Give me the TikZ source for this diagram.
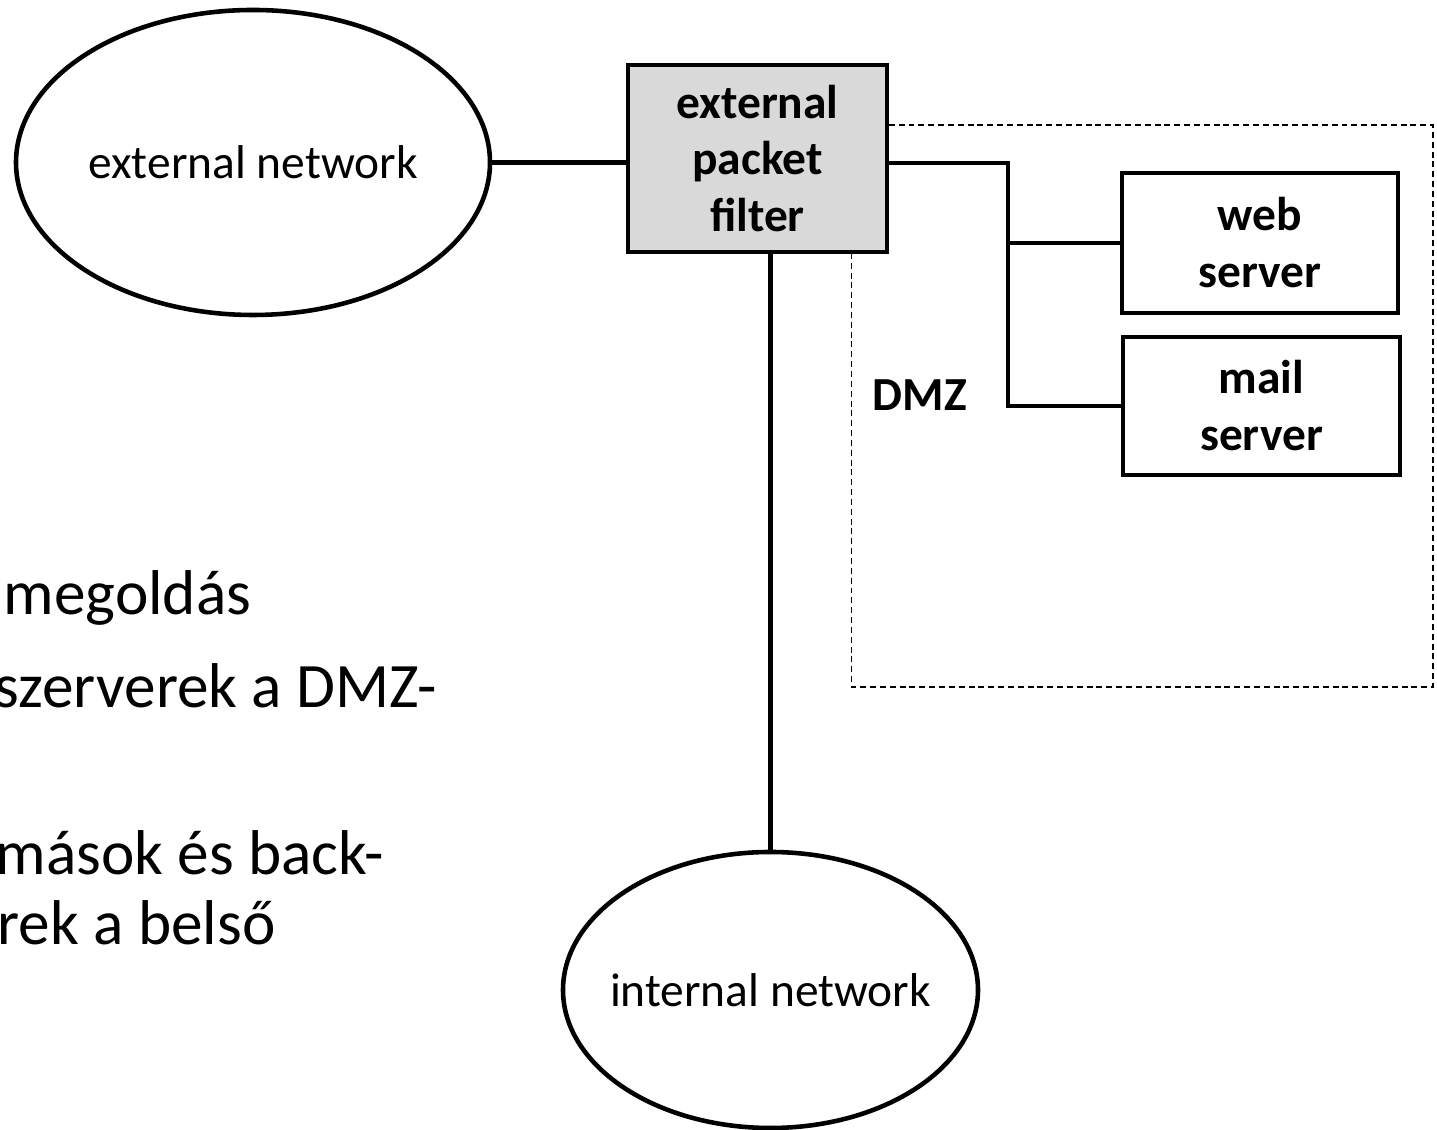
\documentclass[tikz,border=0pt]{standalone}
\usepackage{fontspec}
\setmainfont{Carlito}
\usetikzlibrary{shapes.geometric}
\definecolor{filtergray}{RGB}{217,217,217}

\begin{document}
\begin{tikzpicture}[net/.style={ellipse, draw, line width=1.3pt, inner sep=0pt},
		netlabel/.style={inner sep=0pt, font=\fontsize{13.5}{16.2}\selectfont},
		box/.style={rectangle, draw, line width=1.4pt, inner sep=0pt, align=center, font=\fontsize{13.5}{16.2}\selectfont\bfseries},
		bullet/.style={anchor=base west, inner sep=0pt, font=\fontsize{18}{20}\selectfont}]
		\useasboundingbox (0,0) rectangle (14.37,-11.30);

		\draw [line width=0.45pt, dash pattern=on 1.7pt off 1.1pt] (8.515,-1.25) rectangle (14.33,-6.87);

		\node [net, minimum width=4.74cm, minimum height=3.05cm, label={[netlabel]center:external network}] (extnet) at (2.53,-1.625) {};
		\node [net, minimum width=4.15cm, minimum height=2.76cm, label={[netlabel]center:internal network}] (intnet) at (7.705,-9.90) {};

		\node [box, fill=filtergray, minimum width=2.59cm, minimum height=1.87cm] (filter) at (7.575,-1.585) {external\\packet\\filter};
		\node [box, minimum width=2.76cm, minimum height=1.40cm] (web) at (12.60,-2.43) {web\\server};
		\node [box, minimum width=2.77cm, minimum height=1.38cm] (mail) at (12.615,-4.06) {mail\\server};

		\node [font=\fontsize{13.5}{16.2}\selectfont\bfseries] (dmz) at (9.20,-3.95) {DMZ};

		\node [bullet] (sol) at (0.03,-6.15) {megoldás};
		\node [bullet] (pub) at (-0.06,-7.08) {szerverek a DMZ-};
		\node [bullet] (priv) at (-0.05,-8.75) {mások és back-};
		\node [bullet] (privb) at (-0.03,-9.45) {rek a belső};

		\coordinate (bus) at (10.08,-1.63);
	\begin{scope}[line width=1.3pt]
		\draw (extnet.east) -- (extnet.east -| filter.west);
		\draw (filter.south -| intnet.north) -- (intnet.north);
		\draw (filter.east |- bus) -- (bus) |- (mail.west);
		\draw (bus |- web.west) -- (web.west);
	\end{scope}
\end{tikzpicture}
\end{document}
